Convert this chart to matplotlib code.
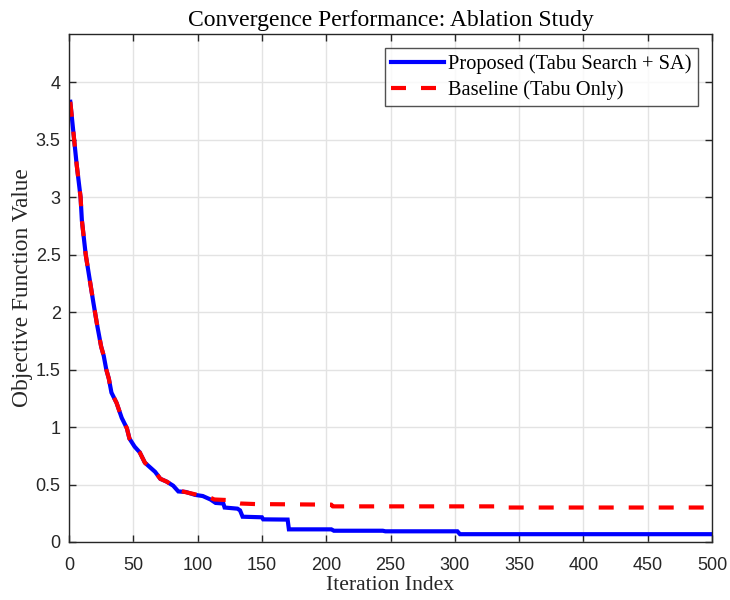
import matplotlib
matplotlib.use("Agg")
import matplotlib.pyplot as plt
from matplotlib.ticker import MultipleLocator

# ---- data ----
prop_iter = [1, 4, 6, 9, 10, 13, 16, 19, 22, 25, 27, 29, 31, 33, 37, 41, 45, 47,
             51, 55, 59, 63, 67, 71, 76, 81, 85, 91, 98, 104, 110, 114, 120, 121,
             131, 133, 135, 150, 151, 170, 171, 204, 206, 244, 246, 302, 304, 500]
prop_val = [3.83, 3.50, 3.28, 3.00, 2.80, 2.50, 2.29, 2.08, 1.88, 1.70, 1.62, 1.50,
            1.42, 1.30, 1.21, 1.08, 0.99, 0.90, 0.83, 0.78, 0.69, 0.65, 0.61, 0.55,
            0.525, 0.49, 0.44, 0.435, 0.41, 0.40, 0.37, 0.34, 0.335, 0.30, 0.29,
            0.275, 0.22, 0.215, 0.197, 0.195, 0.11, 0.11, 0.098, 0.098, 0.093,
            0.093, 0.068, 0.068]

base_iter = [1, 4, 6, 9, 10, 13, 16, 19, 22, 25, 27, 29, 31, 33, 37, 41, 45, 47,
             51, 55, 59, 63, 67, 71, 76, 81, 85, 92, 100, 105, 110, 113, 123, 125,
             133, 145, 204, 205, 340, 341, 500]
base_val = [3.83, 3.50, 3.28, 3.00, 2.80, 2.50, 2.29, 2.08, 1.88, 1.70, 1.62, 1.50,
            1.42, 1.30, 1.21, 1.08, 0.99, 0.90, 0.83, 0.78, 0.69, 0.65, 0.61, 0.55,
            0.525, 0.49, 0.45, 0.43, 0.41, 0.40, 0.385, 0.37, 0.365, 0.35, 0.335,
            0.33, 0.325, 0.31, 0.31, 0.30, 0.30]

labels = ["Proposed (Tabu Search + SA)", "Baseline (Tabu Only)"]
title = "Convergence Performance: Ablation Study"
xlabel = "Iteration Index"
ylabel = "Objective Function Value"

# ---- figure ----
serif = ["Liberation Serif", "DejaVu Serif"]
sans = ["Liberation Sans", "DejaVu Sans"]
axcol = "#262626"

fig = plt.figure(figsize=(7.3, 6.0), dpi=100)
ax = fig.add_axes([69 / 730, 58 / 600, (712 - 69) / 730, (542 - 34) / 600])

ax.plot(prop_iter, prop_val, color="#0000FF", lw=3.0, label=labels[0],
        solid_joinstyle="miter")
ax.plot(base_iter, base_val, color="#FF0000", lw=3.0, ls=(0, (3.6, 3.6)),
        label=labels[1])

ax.set_xlim(0, 500)
ax.set_ylim(0, 4.42)
ax.xaxis.set_major_locator(MultipleLocator(50))
ax.set_yticks([0, 0.5, 1, 1.5, 2, 2.5, 3, 3.5, 4])
ax.set_yticklabels(["0", "0.5", "1", "1.5", "2", "2.5", "3", "3.5", "4"])

ax.grid(True, color="#e3e3e3", lw=1.0)
ax.set_axisbelow(True)
for s in ax.spines.values():
    s.set_color(axcol)
    s.set_linewidth(1.0)
ax.tick_params(direction="in", length=5, width=1.0, colors=axcol,
               top=True, right=True, labelsize=13)
ax.tick_params(axis="x", pad=11)
ax.tick_params(axis="y", pad=6)
for lab in ax.get_xticklabels() + ax.get_yticklabels():
    lab.set_family(sans)

ax.set_title(title, family=serif, fontsize=17, color="black", pad=6)
ax.set_xlabel(xlabel, family=serif, fontsize=15.6, color=axcol, labelpad=1)
ax.set_ylabel(ylabel, family=serif, fontsize=16.8, color=axcol, labelpad=2)

leg = ax.legend(loc="upper right", prop={"family": serif, "size": 14.7},
                frameon=True, fancybox=False, edgecolor=axcol,
                handlelength=2.6, handletextpad=0.2, borderpad=0.3,
                labelspacing=0.3, borderaxespad=0.7)
leg.get_frame().set_linewidth(1.0)

fig.savefig("out.png", dpi=100)
